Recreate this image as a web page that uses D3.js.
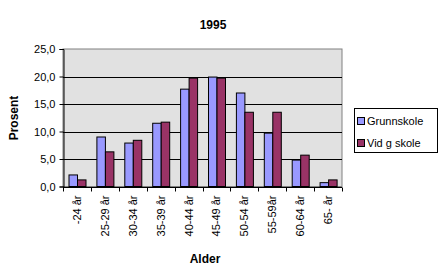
<!DOCTYPE html>
<html>
<head>
<meta charset="utf-8">
<script src="https://cdn.jsdelivr.net/npm/d3@7"></script>
<style>
  body { margin: 0; background: #fff; }
  svg { display: block; font-family: "Liberation Sans", Arial, sans-serif; }
</style>
</head>
<body>
<svg id="chart" width="444" height="273"></svg>
<script>
const categories = ['-24 år', '25-29 år', '30-34 år', '35-39 år', '40-44 år', '45-49 år', '50-54 år', '55-59år', '60-64 år', '65- år'];
const grunnskole = [2.1, 9.0, 7.9, 11.5, 17.7, 19.9, 17.0, 9.7, 4.8, 0.7];
const vidgskole = [1.2, 6.3, 8.4, 11.7, 19.7, 19.7, 13.5, 13.5, 5.7, 1.2];
const seriesNames = ['Grunnskole', 'Vid g skole'];
const yTicks = [0, 5, 10, 15, 20, 25];

const colors = ['#9999ff', '#993366'];
const svg = d3.select('#chart');
const margin = { left: 63, top: 49, right: 342, bottom: 186.5 };

const x = d3.scaleBand().domain(categories).range([margin.left, margin.right]);
const inner = d3.scaleBand().domain([0, 1]).range([6, 23]);
const y = d3.scaleLinear().domain([0, 25]).range([margin.bottom, margin.top]);

// plot area
svg.append('rect')
  .attr('x', margin.left).attr('y', margin.top)
  .attr('width', margin.right - margin.left).attr('height', margin.bottom - margin.top)
  .attr('fill', '#e1e1e1').attr('stroke', '#808080').attr('stroke-width', 1);

// gridlines
svg.append('g').selectAll('line').data(yTicks.slice(1, -1)).join('line')
  .attr('x1', margin.left).attr('x2', margin.right)
  .attr('y1', d => Math.round(y(d)) + 0.5).attr('y2', d => Math.round(y(d)) + 0.5)
  .attr('stroke', '#000');

// bars
const series = [grunnskole, vidgskole];
series.forEach((vals, s) => {
  svg.append('g').selectAll('rect').data(vals).join('rect')
    .attr('x', (d, i) => x(categories[i]) + inner(s))
    .attr('y', d => y(d))
    .attr('width', inner.bandwidth())
    .attr('height', d => y(0) - y(d))
    .attr('fill', colors[s])
    .attr('stroke', '#000').attr('stroke-width', 1);
});

// y axis
const yAxis = svg.append('g')
  .attr('transform', `translate(${margin.left + 0.5},0)`)
  .call(d3.axisLeft(y).tickValues(yTicks).tickSize(4).tickPadding(4)
    .tickFormat(d => d3.format('.1f')(d).replace('.', ',')));
yAxis.select('.domain').attr('stroke', '#000');
yAxis.selectAll('text').attr('font-size', 11).attr('fill', '#000')
  .attr('font-family', '"Liberation Sans", Arial, sans-serif');

// x axis
const xAxisG = svg.append('g').attr('transform', `translate(0,${Math.round(y(0)) + 0.5})`);
xAxisG.append('line').attr('x1', margin.left).attr('x2', margin.right).attr('stroke', '#000');
xAxisG.selectAll('.tk').data(d3.range(categories.length + 1)).join('line')
  .attr('x1', i => Math.round(margin.left + i * x.step()) + 0.5)
  .attr('x2', i => Math.round(margin.left + i * x.step()) + 0.5)
  .attr('y1', 0).attr('y2', 4).attr('stroke', '#000');
xAxisG.selectAll('text').data(categories).join('text')
  .attr('transform', d => `translate(${x(d) + x.bandwidth() / 2 + 4},8) rotate(-90)`)
  .attr('text-anchor', 'end')
  .attr('font-size', 11)
  .text(d => d);

// titles
svg.append('text').attr('x', 213).attr('y', 29).attr('text-anchor', 'middle')
  .attr('font-weight', 'bold').attr('font-size', 12).text('1995');
svg.append('text').attr('x', 205).attr('y', 263).attr('text-anchor', 'middle')
  .attr('font-weight', 'bold').attr('font-size', 12).text('Alder');
svg.append('text').attr('transform', 'translate(18,118) rotate(-90)').attr('text-anchor', 'middle')
  .attr('font-weight', 'bold').attr('font-size', 12).text('Prosent');

// legend
const legend = svg.append('g');
legend.append('rect').attr('x', 354.5).attr('y', 108.5).attr('width', 83).attr('height', 44)
  .attr('fill', '#fff').attr('stroke', '#000');
seriesNames.forEach((name, i) => {
  legend.append('rect').attr('x', 357.5).attr('y', 117.5 + i * 22).attr('width', 7).attr('height', 7)
    .attr('fill', colors[i]).attr('stroke', '#000');
  legend.append('text').attr('x', 367).attr('y', 125 + i * 22).attr('font-size', 11).text(name);
});
</script>
</body>
</html>
